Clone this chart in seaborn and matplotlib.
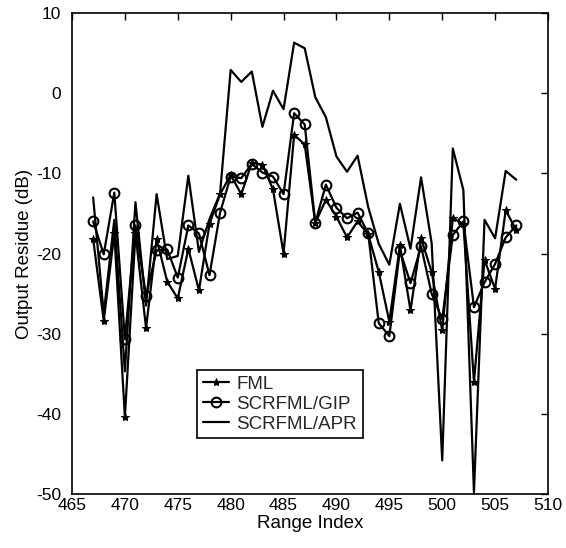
import numpy as np
import pandas as pd
import matplotlib
matplotlib.use("Agg")
import matplotlib.pyplot as plt
import seaborn as sns

range_index = list(range(467, 508))

fml = [-18.2, -28.4, -17.5, -40.4, -17.5, -29.3, -18.2, -23.5, -25.6, -19.4,
       -24.6, -16.3, -12.6, -10.2, -12.6, -8.7, -8.9, -12.0, -20.0, -5.2,
       -6.4, -16.2, -13.3, -15.4, -18.0, -16.0, -17.6, -22.3, -28.5, -19.0,
       -27.1, -18.1, -22.3, -29.6, -15.6, -16.3, -36.0, -20.8, -24.4, -14.6,
       -17.1]

gip = [-16.0, -20.1, -12.4, -30.7, -16.5, -25.3, -19.6, -19.5, -23.0, -16.5,
       -17.5, -22.7, -14.9, -10.4, -10.6, -8.8, -9.9, -10.4, -12.6, -2.5,
       -3.9, -16.2, -11.4, -14.3, -15.6, -14.9, -17.5, -28.7, -30.3, -19.6,
       -23.7, -19.1, -25.0, -28.2, -17.7, -16.0, -26.7, -23.6, -21.3, -18.0,
       -16.5]

apr = [-13.0, -27.5, -15.8, -34.7, -13.6, -26.5, -12.6, -20.7, -20.3, -10.3,
       -19.8, -15.7, -12.5, 2.9, 1.4, 2.7, -4.2, 0.3, -2.0, 6.3,
       5.6, -0.5, -3.0, -7.9, -9.8, -7.8, -14.2, -18.8, -21.4, -13.8,
       -19.4, -10.5, -18.7, -45.8, -6.9, -12.1, -49.8, -15.8, -18.1, -9.7,
       -10.8]

labels = ["FML", "SCRFML/GIP", "SCRFML/APR"]
x_ticks = [465, 470, 475, 480, 485, 490, 495, 500, 505, 510]
y_ticks = [-50, -40, -30, -20, -10, 0, 10]

sns.set_theme(style="white")
plt.rcParams['font.family'] = ['Liberation Sans', 'DejaVu Sans']
plt.rcParams['axes.unicode_minus'] = False

TFS = 12.5
LFS = 13.5

fig = plt.figure(figsize=(5.66, 5.48), dpi=100)
ax = fig.add_axes([0.1272, 0.0985, 0.8410, 0.8778])

df = pd.DataFrame({"x": range_index, "FML": fml, "GIP": gip, "APR": apr})

sns.lineplot(data=df, x="x", y="FML", ax=ax, color="black", lw=1.6,
             marker="*", markersize=6, markerfacecolor="black",
             markeredgecolor="black", label=labels[0])
sns.lineplot(data=df, x="x", y="GIP", ax=ax, color="black", lw=1.6,
             marker="o", markersize=7, markerfacecolor="none",
             markeredgecolor="black", markeredgewidth=1.5, label=labels[1])
sns.lineplot(data=df, x="x", y="APR", ax=ax, color="black", lw=1.6,
             label=labels[2])

ax.set_xlim(465, 510)
ax.set_ylim(-50, 10)
ax.set_xticks(x_ticks)
ax.set_yticks(y_ticks)
ax.tick_params(direction="in", length=5, width=1, top=True, right=True,
               labelsize=TFS, colors="black")
ax.tick_params(axis="y", pad=8)
ax.tick_params(axis="x", pad=3)
for s in ax.spines.values():
    s.set_color("black")
    s.set_linewidth(1.2)
    s.set_visible(True)

ax.set_xlabel("Range Index", fontsize=LFS, color="black", labelpad=1)
ax.set_ylabel("Output Residue (dB)", fontsize=LFS, color="black", labelpad=2)

leg = ax.legend(loc="lower left", bbox_to_anchor=(0.263, 0.116),
                borderaxespad=0, fancybox=False, framealpha=1,
                edgecolor="black", fontsize=LFS, handlelength=1.4,
                borderpad=0.3, labelspacing=0.15, handletextpad=0.4)
leg.get_frame().set_linewidth(1.2)

fig.savefig("out.png", dpi=100)
